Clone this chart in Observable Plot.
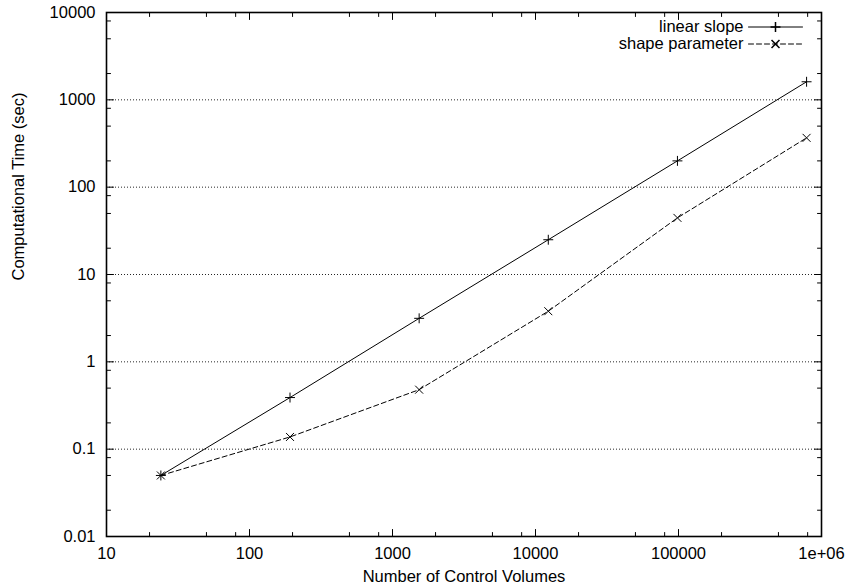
<!DOCTYPE html>
<html>
<head>
<meta charset="utf-8">
<script src="https://cdn.jsdelivr.net/npm/d3@7"></script>
<script src="https://cdn.jsdelivr.net/npm/@observablehq/plot@0.6"></script>
<style>
  html, body { margin: 0; padding: 0; background: white; }
  #chart svg { display: block; }
</style>
</head>
<body>
<div id="chart"></div>
<script>
// Data
const controlVolumes = [24, 192, 1536, 12288, 98304, 786432];
const linearSlope = [0.05, 0.39, 3.15, 25, 200, 1610];
const shapeParameter = [0.05, 0.138, 0.48, 3.8, 44.5, 367];
const seriesNames = ["linear slope", "shape parameter"];

const xTickValues = [10, 100, 1000, 10000, 100000, 1000000];
const xTickLabels = ["10", "100", "1000", "10000", "100000", "1e+06"];
const yTickValues = [0.01, 0.1, 1, 10, 100, 1000, 10000];
const yTickLabels = ["0.01", "0.1", "1", "10", "100", "1000", "10000"];
const minorMultipliers = [2, 5, 8];
const xLabel = "Number of Control Volumes";
const yLabel = "Computational Time (sec)";

const linearRows = controlVolumes.map((n, i) => ({n, t: linearSlope[i]}));
const shapeRows = controlVolumes.map((n, i) => ({n, t: shapeParameter[i]}));

const xMinor = xTickValues.slice(0, -1).flatMap(v => minorMultipliers.map(m => v * m));
const yMinor = yTickValues.slice(0, -1).flatMap(v => minorMultipliers.map(m => v * m));
const yGrid = yTickValues.slice(1, -1);

const tickShape = {draw(ctx, l) { ctx.moveTo(0, 0); ctx.lineTo(0, -l); }};
const font = "'Liberation Sans', Arial, Helvetica, sans-serif";

function ticks(values, axis, len) {
  const marks = [];
  const sides = axis === "x"
    ? [["bottom", 0], ["top", 180]]
    : [["left", 90], ["right", -90]];
  for (const [anchor, rot] of sides) {
    marks.push(Plot.vector(values, {
      [axis]: d => d, frameAnchor: anchor, rotate: rot, length: len,
      anchor: "start", shape: tickShape, stroke: "black", strokeWidth: 1
    }));
  }
  return marks;
}

const row1 = 14.5, row2 = 31.5;

const chart = Plot.plot({
  width: 848,
  height: 587,
  marginLeft: 106,
  marginRight: 27,
  marginTop: 12,
  marginBottom: 51,
  x: {type: "log", domain: [10, 1e6], axis: null},
  y: {type: "log", domain: [0.01, 1e4], axis: null},
  style: {fontFamily: font, fontSize: "16.5px", background: "white", color: "black"},
  marks: [
    Plot.ruleY(yGrid, {y: d => d, stroke: "black", strokeWidth: 1, strokeDasharray: "1,2", strokeOpacity: 0.85}),
    ...ticks(xTickValues, "x", 7),
    ...ticks(xMinor, "x", 4),
    ...ticks(yTickValues, "y", 7),
    ...ticks(yMinor, "y", 4),
    Plot.frame({stroke: "black", strokeWidth: 1.6}),
    Plot.text(xTickValues, {x: d => d, frameAnchor: "bottom", dy: 17, text: (d, i) => xTickLabels[i], lineAnchor: "middle", fill: "black"}),
    Plot.text(yTickValues, {y: d => d, frameAnchor: "left", dx: -11, text: (d, i) => yTickLabels[i], textAnchor: "end", fill: "black"}),
    Plot.text([xLabel], {frameAnchor: "bottom", dy: 40, lineAnchor: "middle", fill: "black"}),
    Plot.text([yLabel], {frameAnchor: "left", dx: -88, dy: 6, rotate: -90, lineAnchor: "middle", fill: "black"}),
    // series
    Plot.line(linearRows, {x: "n", y: "t", stroke: "black", strokeWidth: 1}),
    Plot.line(shapeRows, {x: "n", y: "t", stroke: "black", strokeWidth: 1, strokeDasharray: "5,3"}),
    Plot.dot(linearRows, {x: "n", y: "t", symbol: "plus", r: 3.3, stroke: "black", fill: "none", strokeWidth: 1}),
    Plot.dot(shapeRows, {x: "n", y: "t", symbol: "times", r: 3.7, stroke: "black", fill: "none", strokeWidth: 1}),
    // legend
    Plot.text([seriesNames[0]], {frameAnchor: "top-right", dx: -78, dy: row1, textAnchor: "end", lineAnchor: "middle", fill: "black"}),
    Plot.text([seriesNames[1]], {frameAnchor: "top-right", dx: -78, dy: row2, textAnchor: "end", lineAnchor: "middle", fill: "black"}),
    Plot.vector([0], {frameAnchor: "top-right", dx: -73, dy: row1, rotate: 90, length: 54, anchor: "start", shape: tickShape, stroke: "black", strokeWidth: 1}),
    Plot.vector([0], {frameAnchor: "top-right", dx: -73, dy: row2, rotate: 90, length: 54, anchor: "start", shape: tickShape, stroke: "black", strokeWidth: 1, strokeDasharray: "5,3"}),
    Plot.dot([0], {frameAnchor: "top-right", dx: -46, dy: row1, symbol: "plus", r: 3.3, stroke: "black", fill: "none"}),
    Plot.dot([0], {frameAnchor: "top-right", dx: -46, dy: row2, symbol: "times", r: 3.7, stroke: "black", fill: "none"})
  ]
});
document.getElementById("chart").append(chart);
</script>
</body>
</html>
